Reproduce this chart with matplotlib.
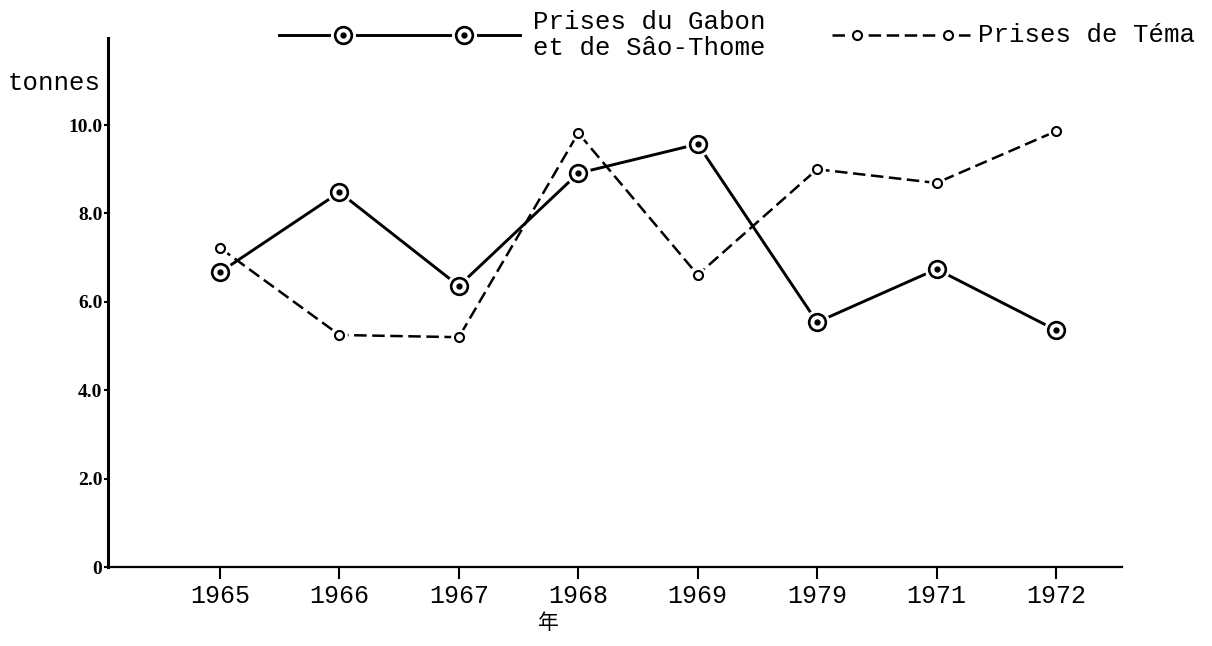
import numpy as np
import matplotlib
matplotlib.use("Agg")
import matplotlib.pyplot as plt

# data
years = ["1965", "1966", "1967", "1968", "1969", "1979", "1971", "1972"]
gabon = [6.67, 8.48, 6.36, 8.91, 9.57, 5.54, 6.74, 5.36]
tema = [7.22, 5.25, 5.20, 9.82, 6.61, 9.00, 8.69, 9.86]
yticks = [0, 2, 4, 6, 8, 10]
ytick_labels = ["0", "2.0", "4.0", "6.0", "8.0", "10.0"]

label_gabon = "Prises du Gabon\net de Sâo-Thome"
label_tema = "Prises de Téma"

plt.rcParams['lines.scale_dashes'] = False
mono = "Liberation Mono"
serif = "Liberation Serif"


def ring_markers(ax, x, y, big, transform=None, clip=True):
    kw = {} if transform is None else {"transform": transform}
    if big:
        ax.plot(x, y, 'o', ms=17, mfc='white', mec='white', zorder=3, clip_on=clip, **kw)
        ax.plot(x, y, 'o', ms=12, mfc='white', mec='black', mew=1.9, zorder=4, clip_on=clip, **kw)
        ax.plot(x, y, 'o', ms=3.5, mfc='black', mec='black', zorder=5, clip_on=clip, **kw)
    else:
        ax.plot(x, y, 'o', ms=11, mfc='white', mec='white', zorder=3, clip_on=clip, **kw)
        ax.plot(x, y, 'o', ms=6.5, mfc='white', mec='black', mew=1.5, zorder=4, clip_on=clip, **kw)


fig = plt.figure(figsize=(12.12, 6.46), dpi=100)
ax = fig.add_axes([108 / 1212, 1 - 567 / 646, (1122 - 108) / 1212, (567 - 38) / 646])

x = np.arange(len(years))
ax.plot(x, gabon, color='black', lw=2.1, zorder=2)
ring_markers(ax, x, gabon, True)
ax.plot(x, tema, color='black', lw=1.8, dashes=(9, 4), zorder=2)
ring_markers(ax, x, tema, False)

ax.set_xlim(-0.938, 7.553)
ax.set_ylim(0, 11.97)
ax.set_xticks(x)
ax.set_xticklabels(years, fontfamily=mono, fontsize=18)
ax.set_yticks(yticks)
ax.set_yticklabels(ytick_labels, fontfamily=serif, fontweight='bold', fontsize=14)
ax.tick_params(axis='x', length=8.5, width=1.5, pad=3.5, direction='out')
ax.tick_params(axis='y', length=3, width=1.5, pad=1, direction='out')

for s in ['top', 'right']:
    ax.spines[s].set_visible(False)
ax.spines['left'].set_linewidth(2.2)
ax.spines['bottom'].set_linewidth(1.6)

# legend drawn by hand, in figure pixels
W, H = 1212, 646
tr = fig.transFigure
ly = 1 - 35 / H
ax.plot([279 / W, 520 / W], [ly, ly], color='black', lw=2.1, transform=tr, clip_on=False, zorder=2)
ring_markers(ax, [343 / W, 464 / W], [ly, ly], True, transform=tr, clip=False)
fig.text(533 / W, ly, label_gabon, fontfamily=mono, fontsize=18.5, ha='left', va='center',
         linespacing=1.1)
ax.plot([832 / W, 970 / W], [ly, ly], color='black', lw=1.8, dashes=(9, 4), transform=tr,
        clip_on=False, zorder=2)
ring_markers(ax, [857 / W, 948 / W], [ly, ly], False, transform=tr, clip=False)
fig.text(978 / W, ly, label_tema, fontfamily=mono, fontsize=18.5, ha='left', va='center')

fig.text(8 / W, 1 - 83 / H, "tonnes", fontfamily=mono, fontsize=18.5, ha='left', va='center')
fig.text(548 / W, 1 - 623 / H, "年", fontfamily=["Noto Sans CJK JP", "DejaVu Sans"],
         fontsize=15, ha='center', va='center')

fig.savefig("out.png", dpi=100)
